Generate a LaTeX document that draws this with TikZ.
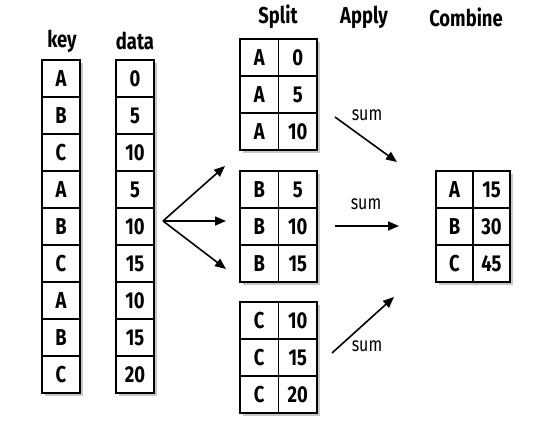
\documentclass[tikz,border=0pt]{standalone}
\usepackage{fontspec}
\setmainfont{Fira Sans}[FakeStretch=0.8]
\usetikzlibrary{arrows.meta,shadows}
\tikzset{
  cell/.style={draw, line width=1.6pt, minimum width=38.5pt, minimum height=37pt,
    inner sep=0pt, font=\bfseries\fontsize{23}{23}\selectfont},
  head/.style={font=\bfseries\fontsize{23}{23}\selectfont},
  sumlabel/.style={font=\fontsize{20}{20}\selectfont},
  arr/.style={line width=1.6pt, -{Triangle[length=11pt,width=9pt]}},
  shadowbox/.style={draw, line width=1.6pt, fill=white, inner sep=0pt,
    drop shadow={opacity=0.45, shadow xshift=3pt, shadow yshift=-3pt}}
}
\begin{document}
\begin{tikzpicture}[x=1pt,y=-1pt]
  \useasboundingbox (0,0) rectangle (553,426);
  % headings
  \node[head] (keyh) at (62,41) {key};
  \node[head] (datah) at (135,41) {data};
  \node[head] (splith) at (278,17) {Split};
  \node[head] (applyh) at (364,17) {Apply};
  \node[head] (combh) at (466,17) {Combine};
  % original table
  \node[shadowbox, minimum width=38pt, minimum height=333pt] (keybox) at (61,226.5) {};
  \node[shadowbox, minimum width=38pt, minimum height=333pt] (databox) at (135,226.5) {};
  \foreach \k [count=\i] in {A,B,C,A,B,C,A,B,C}
    \node[cell, minimum width=38pt] (k\i) at (61,41.5+37*\i) {\k};
  \foreach \v [count=\i] in {0,5,10,5,10,15,10,15,20}
    \node[cell, minimum width=38pt] (d\i) at (135,41.5+37*\i) {\v};
  % split groups
  \node[shadowbox, minimum width=77pt, minimum height=111pt] (abox) at (278.5,94.5) {};
  \node[shadowbox, minimum width=77pt, minimum height=111pt] (bbox) at (278.5,226.5) {};
  \node[shadowbox, minimum width=77pt, minimum height=111pt] (cbox) at (278.5,357.5) {};
  \foreach \v [count=\i] in {0,5,10} {
    \node[cell] (ak\i) at (259.25,20.5+37*\i) {A};
    \node[cell] (av\i) at (297.75,20.5+37*\i) {\v};
  }
  \foreach \v [count=\i] in {5,10,15} {
    \node[cell] (bk\i) at (259.25,152.5+37*\i) {B};
    \node[cell] (bv\i) at (297.75,152.5+37*\i) {\v};
  }
  \foreach \v [count=\i] in {10,15,20} {
    \node[cell] (ck\i) at (259.25,283.5+37*\i) {C};
    \node[cell] (cv\i) at (297.75,283.5+37*\i) {\v};
  }
  % result
  \node[shadowbox, minimum width=74pt, minimum height=111pt] (rbox) at (473,226.5) {};
  \foreach \k/\v [count=\i] in {A/15,B/30,C/45} {
    \node[cell, minimum width=37pt] (rk\i) at (454.5,152.5+37*\i) {\k};
    \node[cell, minimum width=37pt] (rv\i) at (491.5,152.5+37*\i) {\v};
  }
  % split arrows
  \coordinate (fan) at (163,221);
  \coordinate (fan1) at (225,166);
  \coordinate (fan2) at (226,221);
  \coordinate (fan3) at (226,269);
  \draw[arr] (fan) -- (fan1);
  \draw[arr] (fan) -- (fan2);
  \draw[arr] (fan) -- (fan3);
  % apply arrows
  \coordinate (as) at (335,117);
  \coordinate (ae) at (397,162);
  \coordinate (bs) at (335,226);
  \coordinate (be) at (399,226);
  \coordinate (cs) at (332,353);
  \coordinate (ce) at (394,297);
  \draw[arr] (as) -- (ae);
  \draw[arr] (bs) -- (be);
  \draw[arr] (cs) -- (ce);
  \node[sumlabel] (suma) at (367,115) {sum};
  \node[sumlabel] (sumb) at (366,204) {sum};
  \node[sumlabel] (sumc) at (367,346) {sum};
\end{tikzpicture}
\end{document}
